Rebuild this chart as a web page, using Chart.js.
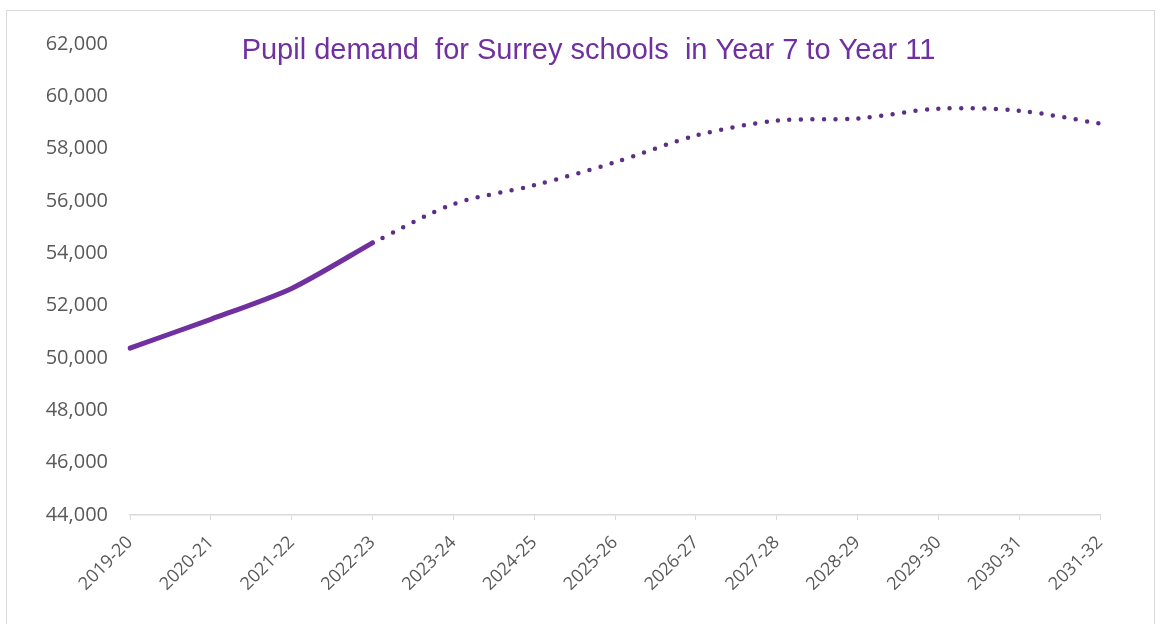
<!DOCTYPE html>
<html>
<head>
<meta charset="utf-8">
<script src="https://cdn.jsdelivr.net/npm/chart.js@4.4.0/dist/chart.umd.min.js"></script>
<style>
  html, body { margin: 0; padding: 0; background: #fff; }
  #wrap { position: relative; width: 1161px; height: 624px; }
  #frame { position: absolute; left: 6px; top: 10px; width: 1149px; height: 620px; border: 1px solid #d9d9d9; box-sizing: border-box; pointer-events: none; }
</style>
</head>
<body>
<div id="wrap">
  <canvas id="demandChart" width="1161" height="624"></canvas>
  <div id="frame"></div>
</div>
<script>
// ====== Data ======
const years = ["2019-20", "2020-21", "2021-22", "2022-23", "2023-24", "2024-25", "2025-26",
  "2026-27", "2027-28", "2028-29", "2029-30", "2030-31", "2031-32"];
const actual = [50380, 51480, 52660, 54400, null, null, null, null, null, null, null, null, null];
const projected = [null, null, null, 54400, 55880, 56600, 57480, 58500, 59070, 59150, 59530, 59450, 58960];
const titleText = "Pupil demand  for Surrey schools  in Year 7 to Year 11";

const PURPLE = "#7030A0";
const DOT_PURPLE = "#5c2f86";
const GREY_TEXT = "#595959";

// ====== Title drawn over the plot (like Excel overlay) ======
const overlayTitle = {
  id: "overlayTitle",
  afterDraw(chart) {
    const { ctx, chartArea } = chart;
    ctx.save();
    ctx.font = "29px 'Liberation Sans', Arial, sans-serif";
    ctx.fillStyle = PURPLE;
    ctx.textAlign = "center";
    ctx.textBaseline = "alphabetic";
    ctx.fillText(titleText, chart.width / 2 + 8, chartArea.top + 15);
    ctx.restore();
  }
};

// ====== Chart ======
new Chart(document.getElementById("demandChart"), {
  type: "line",
  data: {
    labels: years,
    datasets: [
      {
        label: "Actual",
        data: actual,
        borderColor: PURPLE,
        borderWidth: 5,
        borderCapStyle: "round",
        pointRadius: 0,
        tension: 0.25,
        spanGaps: false
      },
      {
        label: "Projected",
        data: projected,
        borderColor: DOT_PURPLE,
        borderWidth: 4.5,
        borderDash: [0, 11.5],
        borderCapStyle: "round",
        pointRadius: 0,
        tension: 0.3,
        spanGaps: false
      }
    ]
  },
  options: {
    responsive: false,
    animation: false,
    layout: { padding: { top: 44, right: 61, left: 0, bottom: 0 } },
    plugins: {
      legend: { display: false },
      title: { display: false },
      tooltip: { enabled: false }
    },
    scales: {
      x: {
        offset: false,
        grid: { display: true, drawOnChartArea: false, color: "#d9d9d9", tickLength: 5 },
        border: { display: true, color: "#d9d9d9", width: 1.5 },
        ticks: {
          color: GREY_TEXT,
          font: { family: "'Open Sans', sans-serif", size: 18 },
          minRotation: 45,
          maxRotation: 45,
          padding: 12,
          autoSkip: false
        },
        afterFit(scale) { scale.height = 109; }
      },
      y: {
        min: 44000,
        max: 62000,
        grid: { display: false, drawTicks: false },
        border: { display: false },
        ticks: {
          stepSize: 2000,
          color: GREY_TEXT,
          font: { family: "'Open Sans', sans-serif", size: 20 },
          padding: 22,
          callback: v => v.toLocaleString("en-GB")
        },
        afterFit(scale) { scale.width = 130; }
      }
    }
  },
  plugins: [overlayTitle]
});
</script>
</body>
</html>
